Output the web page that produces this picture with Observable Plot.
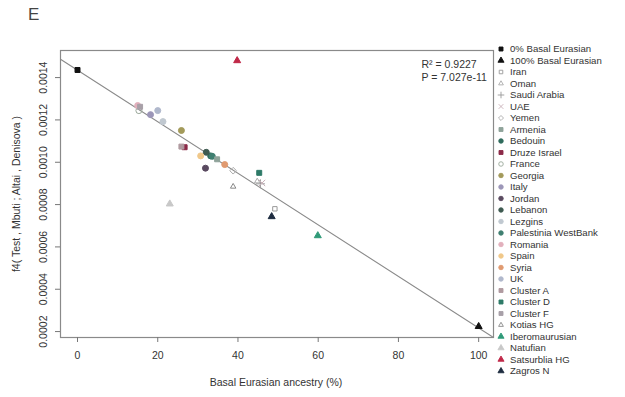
<!DOCTYPE html>
<html><head><meta charset="utf-8">
<script src="https://cdn.jsdelivr.net/npm/d3@7"></script>
<script src="https://cdn.jsdelivr.net/npm/@observablehq/plot@0.6"></script>
<style>body{margin:0;background:#fff}svg{display:block}</style>
</head><body><div id="chart"></div>
<script>
// ---- data ----
const populations = ["0% Basal Eurasian","100% Basal Eurasian","Iran","Oman","Saudi Arabia","UAE","Yemen","Armenia","Bedouin","Druze Israel","France","Georgia","Italy","Jordan","Lebanon","Lezgins","Palestinia WestBank","Romania","Spain","Syria","UK","Cluster A","Cluster D","Cluster F","Kotias HG","Iberomaurusian","Natufian","Satsurblia HG","Zagros N"];
const basalAncestry = [0, 100, 49.2, 44.8, 45.6, 46.0, 38.8, 34.8, 33.2, 26.7, 15.3, 25.9, 18.2, 31.9, 32.1, 21.3, 33.6, 15.0, 30.7, 36.7, 20.0, 25.9, 45.3, 15.6, 38.8, 59.9, 23.0, 39.8, 48.4];
const f4Values   = [0.001436, 0.000224, 0.000780, 0.000910, 0.000898, 0.000902, 0.000960, 0.001014, 0.001030, 0.001071, 0.001244, 0.001150, 0.001225, 0.000972, 0.001047, 0.001192, 0.001028, 0.001268, 0.001030, 0.000989, 0.001244, 0.001074, 0.000950, 0.001262, 0.000885, 0.000653, 0.000803, 0.001480, 0.000743];
const xTicks = [0, 20, 40, 60, 80, 100];
const yTicks = [0.0002, 0.0004, 0.0006, 0.0008, 0.0010, 0.0012, 0.0014];
const fitIntercept = 0.001435;
const fitSlope = -0.00001218;
const statsLines = ["R² = 0.9227", "P = 7.027e-11"];
const panelLabel = "E";
const xTitle = "Basal Eurasian ancestry (%)";
const yTitle = "f4( Test , Mbuti ; Altai , Denisova )";

// ---- styles (symbol, colour, filled) ----
const styles = {
  "0% Basal Eurasian": ["square", "#111", true],
  "100% Basal Eurasian": ["triangle", "#111", true],
  "Iran": ["square2", "#999", false],
  "Oman": ["triangle2", "#aaa", false],
  "Saudi Arabia": ["plus", "#999", false],
  "UAE": ["times", "#c8b0b8", false],
  "Yemen": ["diamond2", "#aaa", false],
  "Armenia": ["square", "#8fa39a", true],
  "Bedouin": ["circle", "#2f6b5c", true],
  "Druze Israel": ["square", "#8c2a48", true],
  "France": ["circle2", "#9aa89a", false],
  "Georgia": ["circle", "#a39a5a", true],
  "Italy": ["circle", "#9c96b8", true],
  "Jordan": ["circle", "#5a4a60", true],
  "Lebanon": ["circle", "#3e5a50", true],
  "Lezgins": ["circle", "#c0c8d0", true],
  "Palestinia WestBank": ["circle", "#3f7f70", true],
  "Romania": ["circle", "#e2b0bc", true],
  "Spain": ["circle", "#f0c88a", true],
  "Syria": ["circle", "#e09a70", true],
  "UK": ["circle", "#b0b8cc", true],
  "Cluster A": ["square", "#b09aa0", true],
  "Cluster D": ["square", "#2e7a68", true],
  "Cluster F": ["square", "#a8a0a8", true],
  "Kotias HG": ["triangle2", "#888", false],
  "Iberomaurusian": ["triangle", "#2f9a78", true],
  "Natufian": ["triangle", "#c8c8c8", true],
  "Satsurblia HG": ["triangle", "#c02848", true],
  "Zagros N": ["triangle", "#1e2c40", true]
};
const symName = s => s === "circle2" ? "circle" : s;
const symRadius = s => s.startsWith("triangle") ? 2.6 : s.startsWith("square") ? 2.8 : 3.0;

const points = populations.map((p, i) => ({pop: p, x: basalAncestry[i], y: f4Values[i]}));
const xDomain = [-4.24, 103.7];
const yDomain = [0.000172, 0.001528];
const fitLine = xDomain.map(x => ({x, y: fitIntercept + fitSlope * x}));

const font = "'Liberation Sans', Arial, sans-serif";
const svg = Plot.plot({
  width: 625, height: 397,
  marginLeft: 60, marginRight: 132, marginTop: 50, marginBottom: 60,
  style: {fontFamily: font, fontSize: "10.5px", color: "#333", background: "#fff"},
  x: {domain: xDomain},
  y: {domain: yDomain},
  r: {type: "identity"},
  symbol: {type: "identity"},
  color: {type: "identity"},
  marks: [
    Plot.frame({stroke: "#8a8a8a", strokeWidth: 1.2}),
    Plot.line(fitLine, {x: "x", y: "y", stroke: "#8a8a8a", strokeWidth: 1.1, clip: true}),
    Plot.dot(points, {
      x: "x", y: "y",
      r: d => symRadius(styles[d.pop][0]),
      symbol: d => symName(styles[d.pop][0]),
      fill: d => styles[d.pop][2] ? styles[d.pop][1] : "none",
      stroke: d => styles[d.pop][1],
      strokeWidth: 1
    }),
    Plot.axisX(xTicks, {tickSize: 5, tickPadding: 9, label: null, stroke: "#777", fill: "#333", fontSize: 10.5}),
    Plot.axisY(yTicks, {tickSize: 5, tickPadding: 9, tickRotate: -90, label: null, stroke: "#777", fill: "#333", fontSize: 10.5, tickFormat: d => d.toFixed(4)}),
    Plot.text([statsLines.join("\n")], {frameAnchor: "top-right", dx: -72, dy: 9, textAnchor: "start", lineAnchor: "top", fontSize: 10.5, fill: "#333", lineHeight: 1.2})
  ]
});

const s = d3.select(svg);
s.append("text").attr("x", 28).attr("y", 20).attr("text-anchor", "start").attr("font-size", 17).attr("fill", "#444").attr("font-family", font).text(panelLabel);
s.append("text").attr("x", 276).attr("y", 386).attr("text-anchor", "middle").attr("font-size", 10.5).attr("fill", "#333").attr("font-family", font).text(xTitle);
s.append("text").attr("transform", "translate(20,194) rotate(-90)").attr("text-anchor", "middle").attr("font-size", 10.5).attr("fill", "#333").attr("font-family", font).text(yTitle);

const d3sym = {square: d3.symbolSquare, triangle: d3.symbolTriangle, circle: d3.symbolCircle, square2: d3.symbolSquare2, triangle2: d3.symbolTriangle2, diamond2: d3.symbolDiamond2, plus: d3.symbolPlus, times: d3.symbolTimes};
const lg = s.append("g").attr("font-family", font).attr("font-size", 9.6).attr("fill", "#333").attr("text-anchor", "start");
populations.forEach((p, i) => {
  const [sym, col, filled] = styles[p];
  const y = 49 + i * 11.5;
  lg.append("path").attr("transform", `translate(501,${y})`)
    .attr("d", d3.symbol(d3sym[symName(sym)], 16)())
    .attr("fill", filled ? col : "none").attr("stroke", col).attr("stroke-width", 0.9);
  lg.append("text").attr("x", 510).attr("y", y).attr("dy", "0.35em").attr("text-anchor", "start").text(p);
});

document.getElementById("chart").appendChild(svg);
</script>
</body></html>
